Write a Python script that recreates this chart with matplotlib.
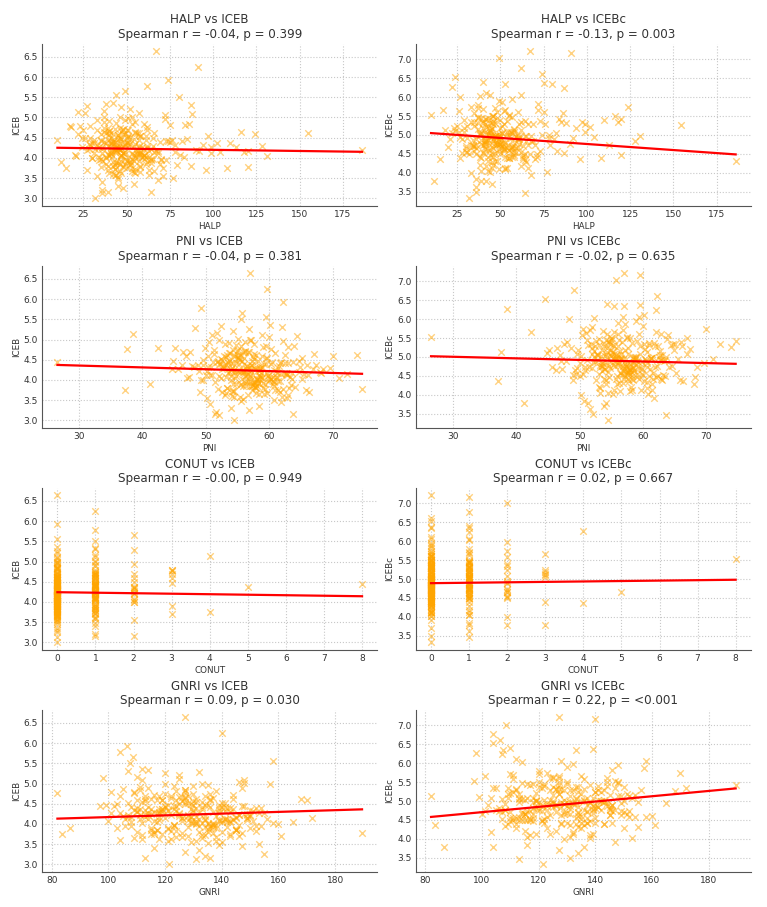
import matplotlib
matplotlib.use("Agg")
import matplotlib.pyplot as plt
from matplotlib.ticker import MultipleLocator, FormatStrFormatter
import numpy as np

# per-patient values (outliers first, then the bulk)
halp = [67, 91, 74, 62, 49, 44, 80, 154.5, 186, 10,
        12, 18, 22, 15, 118, 120, 124, 17, 32, 46,
        24, 40, 53, 75, 87, 62, 42, 36, 64, 45,
        45, 38, 52, 61, 29, 47, 55, 41, 70, 33,
        50, 43, 58, 26, 64, 48, 36, 77, 53, 40,
        44, 57, 31, 49, 66, 39, 83, 46, 54, 28,
        42, 60, 35, 51, 72, 47, 24, 56, 96, 37,
        48, 63, 41, 30, 55, 45, 79, 52, 39, 102,
        34, 58, 46, 68, 43, 21, 50, 87, 40, 59,
        47, 36, 53, 75, 44, 62, 27, 49, 108, 41,
        56, 38, 45, 65, 33, 51, 92, 42, 60, 25,
        49, 71, 40, 54, 37, 58, 46, 85, 30, 44,
        52, 43, 67, 39, 48, 113, 35, 57, 61, 46,
        41, 54, 23, 48, 73, 44, 38, 63, 99, 50,
        37, 59, 45, 31, 55, 78, 42, 51, 47, 128,
        53, 40, 64, 36, 46, 88, 57, 43, 28, 69,
        45, 50, 34, 60, 42, 104, 48, 39, 76, 55,
        29, 47, 58, 41, 66, 52, 37, 81, 44, 62,
        56, 35, 49, 72, 43, 27, 61, 46, 94, 40,
        48, 65, 38, 53, 45, 116, 32, 57, 42, 74,
        39, 51, 60, 44, 86, 36, 47, 54, 22, 68,
        50, 42, 63, 33, 57, 46, 99, 40, 71, 52,
        44, 58, 37, 49, 82, 41, 64, 55, 30, 131,
        43, 51, 36, 58, 47, 62, 39, 54, 45, 70,
        33, 48, 56, 41, 65, 52, 44, 37, 59, 90,
        46, 40, 61, 49, 27, 55, 42, 68, 50, 35,
        57, 45, 38, 63, 48, 31, 53, 78, 43, 110,
        50, 36, 47, 60, 41, 55, 26, 66, 45, 84,
        39, 52, 44, 57, 34, 49, 73, 42, 58, 97,
        47, 54, 29, 43, 62, 51, 38, 46, 69, 120,
        41, 56, 49, 35, 53, 45, 60, 20, 48, 64]

pni = [57.0, 59.6, 62.2, 49.2, 55.7, 59.4, 55.5, 73.8, 68.0, 26.6,
       41.2, 37.6, 38.5, 37.2, 72.2, 74.6, 70.0, 42.4, 54.5, 46.3,
       44.6, 54.4, 57.0, 59.5, 62.0, 56.8, 60.1, 52.1, 63.7, 53.9,
       55.2, 58.1, 52.4, 60.3, 49.8, 56.7, 61.5, 53.9, 57.8, 47.5,
       59.2, 54.1, 62.6, 51.0, 56.3, 58.9, 45.6, 60.8, 55.5, 53.2,
       57.4, 63.8, 50.6, 56.1, 59.7, 52.8, 65.2, 55.0, 58.3, 48.9,
       54.6, 61.1, 51.9, 57.0, 60.0, 56.2, 44.8, 58.7, 66.3, 53.0,
       56.9, 62.0, 53.5, 49.3, 57.6, 55.8, 64.1, 54.3, 52.1, 67.4,
       51.5, 59.5, 56.0, 61.8, 54.9, 47.0, 57.3, 63.1, 53.7, 58.5,
       55.7, 50.9, 57.9, 62.9, 54.4, 60.6, 48.3, 56.6, 65.8, 52.6,
       58.0, 53.4, 55.3, 61.3, 50.2, 57.1, 63.5, 54.0, 59.9, 46.4,
       56.4, 60.9, 53.1, 58.6, 51.7, 59.1, 55.6, 64.7, 49.5, 54.8,
       57.7, 52.0, 62.3, 54.2, 56.8, 68.5, 50.4, 58.2, 60.4, 55.1,
       53.6, 58.4, 45.2, 56.5, 61.7, 54.7, 52.3, 60.1, 66.9, 57.2,
       51.2, 59.8, 55.9, 48.7, 57.5, 62.7, 53.3, 56.0, 58.8, 69.6,
       57.0, 53.8, 61.0, 50.7, 55.4, 64.4, 58.3, 54.5, 47.8, 60.7,
       55.0, 57.3, 52.5, 59.4, 54.1, 65.5, 56.2, 51.4, 61.9, 58.1,
       48.1, 56.8, 59.0, 53.5, 62.4, 57.8, 52.2, 63.3, 55.3, 60.2,
       58.6, 51.8, 56.3, 62.1, 54.9, 49.0, 59.6, 55.7, 64.9, 53.0,
       56.1, 61.4, 52.9, 57.4, 55.5, 67.0, 50.1, 58.9, 54.3, 62.5,
       53.3, 57.6, 60.5, 55.2, 63.9, 51.6, 56.9, 58.4, 46.9, 61.2,
       57.2, 54.6, 61.6, 50.5, 58.0, 55.9, 66.1, 53.6, 62.8, 56.4,
       54.4, 59.3, 52.0, 57.0, 63.0, 53.9, 60.7, 57.9, 49.6, 71.0,
       56.0, 53.2, 59.0, 55.1, 61.2, 57.5, 52.6, 58.2, 54.0, 60.6,
       50.8, 57.9, 55.4, 62.8, 53.7, 59.3, 56.5, 51.3, 58.0, 64.6,
       54.7, 60.0, 57.3, 52.9, 55.9, 63.0, 58.6, 50.0, 56.7, 61.6,
       57.8, 55.2, 53.9, 59.7, 62.2, 51.1, 56.1, 58.8, 54.5, 66.0,
       55.6, 58.3, 60.9, 52.3, 57.1, 54.2, 49.6, 61.9, 56.3, 59.0,
       53.5, 56.9, 62.6, 55.0, 58.4, 50.3, 57.6, 60.3, 54.8, 65.1,
       58.9, 54.1, 51.9, 57.7, 60.7, 55.8, 63.6, 53.1, 56.0, 68.2,
       52.7, 59.8, 56.6, 54.3, 61.4, 57.4, 55.0, 47.3, 58.5, 63.4]

conut = [0, 1, 0, 1, 2, 0, 1, 0, 0, 8,
         3, 3, 4, 4, 0, 0, 0, 3, 0, 5,
         0, 1, 0, 0, 1, 1, 0, 0, 1, 0,
         0, 0, 1, 0, 1, 0, 0, 1, 0, 2,
         0, 1, 0, 1, 0, 0, 2, 0, 0, 1,
         0, 0, 1, 0, 0, 1, 0, 0, 0, 2,
         1, 0, 1, 0, 0, 0, 3, 0, 0, 1,
         0, 0, 1, 2, 0, 1, 0, 0, 1, 0,
         1, 0, 0, 0, 1, 2, 0, 0, 1, 0,
         0, 1, 0, 0, 1, 0, 2, 0, 0, 1,
         0, 1, 0, 0, 2, 0, 0, 1, 0, 3,
         0, 0, 1, 0, 1, 0, 1, 0, 2, 0,
         0, 1, 0, 1, 0, 0, 2, 0, 0, 1,
         1, 0, 3, 0, 0, 1, 1, 0, 0, 0,
         1, 0, 0, 2, 0, 0, 1, 0, 0, 0,
         0, 1, 0, 1, 0, 0, 0, 1, 2, 0,
         0, 0, 1, 0, 1, 0, 0, 2, 0, 0,
         2, 0, 0, 1, 0, 0, 1, 0, 0, 0,
         0, 1, 0, 0, 1, 3, 0, 0, 0, 1,
         0, 0, 1, 0, 1, 0, 2, 0, 1, 0,
         1, 0, 0, 1, 0, 1, 0, 0, 3, 0,
         0, 1, 0, 2, 0, 1, 0, 1, 0, 0,
         1, 0, 1, 0, 0, 1, 0, 0, 2, 0,
         0, 1, 0, 0, 1, 0, 1, 0, 0, 0,
         1, 0, 0, 1, 0, 0, 1, 1, 0, 0,
         0, 0, 1, 0, 2, 0, 0, 1, 0, 1,
         0, 1, 0, 0, 0, 1, 0, 0, 1, 0,
         0, 1, 0, 1, 0, 0, 2, 0, 0, 0,
         1, 0, 0, 0, 1, 0, 0, 1, 0, 0,
         0, 0, 1, 0, 0, 1, 0, 0, 0, 0,
         1, 0, 0, 1, 0, 0, 0, 2, 0, 1]

gnri = [127, 140, 106.5, 104, 108.5, 158, 107.5, 168, 150, 97,
        86.5, 82, 98, 83.5, 172, 189.5, 170, 101, 121.5, 115,
        104, 110, 133, 139, 107, 128, 112, 131, 113, 127,
        128, 115, 141, 133, 109, 122, 150, 118, 136, 104,
        131, 112, 145, 125, 138, 119, 101, 153, 127, 116,
        135, 148, 111, 130, 124, 143, 158, 120, 132, 107,
        117, 139, 126, 110, 146, 134, 99, 129, 161, 114,
        142, 121, 108, 131, 137, 113, 152, 125, 144, 119,
        106, 133, 128, 147, 116, 140, 123, 135, 111, 155,
        130, 114, 138, 124, 149, 103, 132, 120, 143, 127,
        112, 136, 145, 118, 129, 157, 108, 141, 123, 134,
        139, 115, 126, 151, 110, 133, 146, 121, 137, 105,
        124, 142, 113, 130, 155, 117, 136, 128, 102, 148,
        134, 109, 127, 144, 120, 138, 114, 131, 153, 116,
        122, 140, 135, 111, 147, 126, 132, 107, 143, 119,
        137, 125, 150, 116, 129, 112, 141, 134, 121, 145,
        113, 132, 139, 127, 104, 149, 118, 136, 124, 160,
        141, 120, 110, 145, 131, 115, 154, 126, 138, 109,
        128, 147, 117, 135, 122, 143, 112, 130, 151, 118,
        144, 123, 133, 106, 139, 127, 114, 148, 121, 136,
        116, 140, 129, 152, 111, 134, 125, 142, 119, 131,
        135, 108, 146, 123, 130, 117, 156, 127, 140, 113,
        125, 137, 120, 149, 114, 132, 108, 144, 129, 165,
        126, 119, 137, 131, 143, 110, 128, 134, 115, 146,
        121, 140, 113, 132, 125, 150, 118, 136, 129, 105,
        133, 117, 145, 124, 138, 112, 130, 141, 122, 152,
        114, 128, 135, 107, 147, 123, 139, 119, 131, 144,
        136, 111, 126, 142, 118, 133, 103, 149, 125, 138,
        120, 145, 129, 115, 137, 124, 154, 110, 134, 127,
        131, 116, 139, 122, 148, 113, 135, 126, 143, 118,
        109, 134, 123, 140, 119, 130, 146, 100, 137, 121]

iceb = [6.65, 6.25, 5.93, 5.77, 5.65, 5.55, 5.52, 4.62, 4.19, 4.45,
        3.90, 4.77, 5.13, 3.75, 4.15, 3.78, 4.60, 4.80, 3.00, 4.38,
        4.28, 4.60, 5.00, 4.40, 5.30, 4.70, 5.37, 3.12, 3.15, 3.30,
        4.21, 3.85, 4.52, 4.03, 4.78, 3.62, 4.35, 4.10, 3.95, 4.68,
        4.40, 3.72, 4.15, 5.12, 3.98, 4.58, 4.27, 3.50, 4.85, 4.06,
        3.88, 4.45, 4.12, 4.95, 3.67, 4.30, 4.02, 4.73, 3.35, 4.22,
        4.60, 4.08, 3.78, 4.33, 5.05, 3.92, 4.48, 4.17, 3.70, 4.88,
        4.13, 3.58, 4.42, 4.00, 4.65, 4.25, 3.82, 5.20, 4.09, 4.37,
        3.95, 4.55, 4.19, 3.45, 4.71, 4.05, 4.36, 3.80, 4.92, 4.26,
        4.47, 4.11, 3.68, 4.82, 4.24, 3.90, 5.28, 4.14, 3.75, 4.50,
        4.02, 4.62, 3.87, 4.29, 3.55, 4.98, 4.18, 4.41, 3.96, 4.70,
        4.34, 3.76, 4.57, 4.07, 5.15, 3.64, 4.23, 4.46, 3.99, 4.87,
        3.83, 4.39, 4.16, 4.75, 3.25, 4.28, 4.59, 3.93, 4.44, 5.02,
        4.20, 3.66, 4.80, 4.12, 4.43, 3.89, 5.33, 4.01, 4.26, 3.74,
        4.63, 4.09, 3.52, 4.38, 4.90, 4.15, 3.81, 4.53, 4.04, 4.30,
        3.97, 4.66, 4.22, 3.40, 4.49, 5.08, 4.11, 3.73, 4.35, 3.86,
        4.56, 3.94, 4.27, 4.83, 3.61, 4.14, 4.69, 3.15, 4.45, 4.00,
        4.32, 5.25, 3.79, 4.18, 4.61, 3.91, 4.40, 4.06, 3.57, 4.76,
        4.10, 4.44, 3.84, 4.96, 4.23, 3.70, 4.54, 4.03, 4.31, 3.62,
        4.72, 3.98, 4.36, 4.13, 3.48, 4.64, 4.21, 5.10, 3.90, 4.42,
        3.80, 4.51, 4.08, 4.39, 4.85, 3.20, 4.25, 3.93, 4.58, 4.16,
        4.48, 4.05, 3.71, 4.93, 4.29, 3.86, 4.12, 4.67, 3.54, 4.34,
        4.19, 3.77, 5.00, 4.09, 4.43, 4.27, 3.95, 4.62, 4.38, 4.05,
        4.15, 4.38, 3.92, 4.55, 4.07, 4.30, 3.70, 4.46, 4.24, 3.98,
        4.33, 3.81, 4.62, 4.11, 4.49, 3.89, 4.28, 4.74, 4.02, 4.19,
        4.41, 4.05, 3.86, 4.58, 4.20, 3.63, 4.35, 4.12, 4.70, 3.96,
        4.26, 4.52, 4.00, 4.17, 3.77, 4.44, 4.09, 4.31, 3.58, 4.37,
        3.91, 4.23, 4.66, 4.04, 4.36, 3.73, 4.50, 4.14, 4.27, 4.81,
        4.45, 3.85, 4.18, 4.61, 4.01, 4.32, 3.94, 4.40, 4.10, 4.54,
        4.08, 4.29, 4.48, 3.83, 4.25, 4.69, 4.03, 3.68, 4.39, 4.16,
        4.35, 4.13, 3.97, 4.43, 3.74, 4.57, 4.21, 4.06, 4.30, 3.88]

icebc = [7.22, 7.17, 6.60, 6.76, 7.02, 6.05, 6.35, 5.27, 4.30, 5.53,
         3.78, 5.13, 6.27, 4.37, 5.35, 5.42, 5.75, 5.65, 3.33, 4.65,
         6.53, 6.40, 6.35, 6.38, 6.25, 6.05, 6.10, 3.50, 3.47, 3.70,
         4.97, 4.20, 5.29, 4.95, 5.19, 4.52, 4.99, 4.67, 4.36, 5.34,
         4.86, 4.30, 5.15, 5.64, 4.98, 5.01, 4.73, 4.03, 5.66, 4.74,
         4.61, 5.47, 4.54, 5.90, 4.13, 5.04, 4.58, 5.49, 4.13, 4.52,
         5.41, 4.69, 4.70, 4.70, 5.81, 4.32, 5.10, 4.93, 4.36, 5.47,
         4.76, 4.47, 4.77, 4.66, 5.07, 4.97, 4.74, 5.62, 4.88, 5.20,
         4.74, 5.07, 4.83, 3.93, 5.45, 4.89, 4.76, 4.53, 5.69, 4.98,
         4.97, 4.65, 4.10, 5.61, 5.14, 4.17, 5.99, 4.97, 4.39, 5.43,
         4.55, 5.03, 4.80, 4.98, 3.99, 5.86, 4.93, 5.03, 4.86, 5.23,
         4.77, 4.49, 5.31, 4.66, 5.72, 4.56, 4.89, 5.35, 4.54, 5.35,
         4.62, 5.24, 4.50, 5.45, 4.32, 4.74, 5.58, 4.42, 4.90, 5.51,
         4.83, 4.39, 5.18, 4.94, 5.36, 4.47, 6.02, 4.37, 5.09, 4.50,
         5.45, 4.56, 4.28, 5.25, 5.54, 4.92, 4.17, 5.05, 4.98, 4.83,
         4.42, 5.36, 5.36, 3.84, 5.28, 5.31, 4.85, 4.61, 4.89, 4.83,
         5.18, 4.95, 4.86, 5.61, 3.79, 4.94, 5.46, 3.79, 5.28, 4.60,
         5.39, 5.71, 4.46, 4.63, 5.29, 4.66, 5.16, 4.90, 4.02, 5.35,
         4.62, 5.35, 4.10, 5.66, 5.03, 4.39, 5.29, 4.43, 5.18, 4.54,
         5.61, 4.28, 5.05, 4.82, 4.14, 5.49, 4.50, 5.95, 4.84, 4.99,
         4.06, 5.25, 4.92, 5.14, 5.59, 3.63, 4.95, 5.01, 5.04, 4.97,
         5.18, 4.75, 4.42, 5.75, 4.69, 4.50, 5.30, 5.18, 4.41, 4.58,
         5.01, 4.42, 5.80, 4.62, 5.05, 5.28, 4.33, 5.51, 4.72, 4.96,
         4.87, 4.78, 4.90, 5.13, 4.97, 4.56, 4.38, 5.36, 4.67, 4.74,
         4.74, 4.81, 5.08, 4.93, 4.85, 4.72, 5.07, 5.31, 4.66, 4.77,
         5.36, 4.53, 4.77, 4.93, 4.94, 4.38, 4.88, 4.84, 5.40, 4.58,
         4.72, 5.32, 4.42, 4.71, 4.75, 4.92, 4.80, 4.99, 4.06, 5.39,
         4.76, 4.49, 5.32, 4.99, 4.81, 4.40, 5.07, 4.74, 5.17, 5.43,
         4.77, 4.64, 5.04, 5.04, 4.71, 5.03, 4.57, 5.20, 4.70, 5.33,
         4.78, 5.07, 5.07, 4.43, 5.12, 5.05, 4.99, 4.22, 5.29, 4.47,
         5.08, 4.69, 4.57, 5.25, 4.14, 5.50, 4.89, 4.67, 4.74, 4.51]

# panel order: HALP, PNI, CONUT, GNRI (rows) x ICEB, ICEBc (columns)
x_names = ["HALP", "PNI", "CONUT", "GNRI"]
y_names = ["ICEB", "ICEBc"]
spearman_r = ["-0.04", "-0.13", "-0.04", "-0.02", "-0.00", "0.02", "0.09", "0.22"]
spearman_p = ["0.399", "0.003", "0.381", "0.635", "0.949", "0.667", "0.030", "<0.001"]
# regression lines (intercept, slope)
fit_intercept = [4.256, 5.082, 4.492, 5.131, 4.24, 4.89, 3.955, 4.006]
fit_slope = [-0.00057, -0.0032, -0.00458, -0.00417, -0.0125, 0.0113, 0.00214, 0.0070]

x_data = {"HALP": halp, "PNI": pni, "CONUT": conut, "GNRI": gnri}
y_data = {"ICEB": iceb, "ICEBc": icebc}

plt.rcParams["font.family"] = "DejaVu Sans"
plt.rcParams["text.color"] = "#333333"
plt.rcParams["axes.labelcolor"] = "#333333"
plt.rcParams["xtick.color"] = "#333333"
plt.rcParams["ytick.color"] = "#333333"

fig, axes = plt.subplots(4, 2, figsize=(7.67, 9.07), dpi=100)
fig.subplots_adjust(left=0.055, right=0.979, top=0.952, bottom=0.039,
                    hspace=0.37, wspace=0.115)

k = 0
for i, xn in enumerate(x_names):
    for j, yn in enumerate(y_names):
        ax = axes[i, j]
        x = np.array(x_data[xn], dtype=float)
        y = np.array(y_data[yn], dtype=float)
        ax.scatter(x, y, marker="x", color="orange", alpha=0.5, s=22, linewidths=1)
        xx = np.array([x.min(), x.max()])
        ax.plot(xx, fit_intercept[k] + fit_slope[k] * xx, color="red", lw=1.6)
        ax.set_title(f"{xn} vs {yn}\nSpearman r = {spearman_r[k]}, p = {spearman_p[k]}",
                     fontsize=8.6, pad=4, linespacing=1.15)
        ax.set_xlabel(xn, fontsize=6.3, labelpad=2)
        ax.set_ylabel(yn, fontsize=6.3, labelpad=2)
        ax.tick_params(labelsize=6.5, length=0, pad=3)
        ax.yaxis.set_major_locator(MultipleLocator(0.5))
        ax.yaxis.set_major_formatter(FormatStrFormatter("%.1f"))
        ax.grid(True, linestyle=":", color="#c8c8c8", linewidth=0.8)
        ax.set_axisbelow(True)
        for side in ["top", "right"]:
            ax.spines[side].set_visible(False)
        for side in ["left", "bottom"]:
            ax.spines[side].set_color("#555555")
        k += 1

axes[2, 0].set_xticks(range(0, 9))
axes[2, 1].set_xticks(range(0, 9))

fig.savefig("out.png", dpi=100)
